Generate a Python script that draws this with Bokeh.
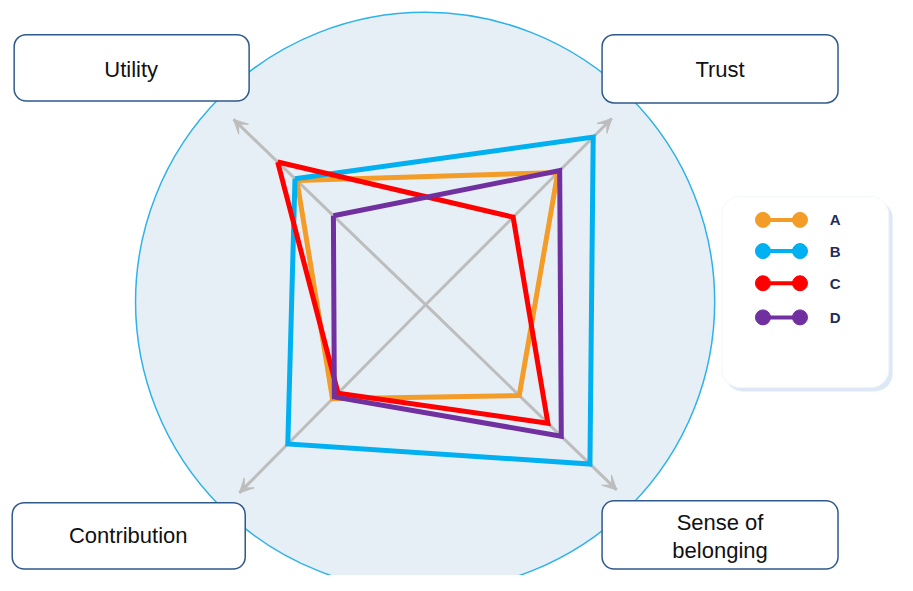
from bokeh.plotting import figure
from bokeh.models import Range1d, BoxAnnotation, Label, Arrow, VeeHead
from bokeh.core.properties import value
from bokeh.embed import file_html
from bokeh.resources import INLINE

# ---- data ----
categories = ["Utility", "Trust", "Sense of belonging", "Contribution"]
series_names = ["A", "B", "C", "D"]
a_vals = [67, 71, 49, 50]
b_vals = [68, 90, 86, 74]
c_vals = [77, 47, 64, 47]
d_vals = [48, 72, 71, 49]
max_val = 100

series_values = [a_vals, b_vals, c_vals, d_vals]
series_colors = ["#F39C28", "#00B0F0", "#FF0000", "#7030A0"]

# ---- layout (page pixel coordinates) ----
W, H = 897, 575
p = figure(width=W, height=H, output_backend="svg", toolbar_location=None,
           x_range=Range1d(0, W), y_range=Range1d(H, 0),
           x_axis_type=None, y_axis_type=None, min_border=0)
p.grid.visible = False
p.outline_line_color = None
p.background_fill_color = "white"
p.border_fill_color = "white"

s = 0.975  # fit 913x591 reference into the frame
def X(v):
    return v * s
def Y(v):
    return v * s

cx, cy = 436, 312
# axis tip offsets (radar spokes): Utility, Trust, Sense, Contribution
tips = [(-197, -190), (191, -191), (196, 190), (-191, 193)]

# background disc
p.circle(x=[X(435.5)], y=[Y(309)], radius=297 * s, fill_color="#E7EFF6",
         line_color="#2EB2EA", line_width=1.5)

# spokes
for dx, dy in tips:
    p.segment(x0=[X(cx)], y0=[Y(cy)], x1=[X(cx + dx)], y1=[Y(cy + dy)],
              line_color="#BDBDBD", line_width=3)
    p.add_layout(Arrow(x_start=X(cx + 0.9 * dx), y_start=Y(cy + 0.9 * dy),
                       x_end=X(cx + dx), y_end=Y(cy + dy), line_alpha=0,
                       end=VeeHead(size=14, fill_color="#BDBDBD",
                                   line_color="#BDBDBD", line_width=1)))

# series polygons
for vals, col in zip(series_values, series_colors):
    xs = [X(cx + v / max_val * dx) for v, (dx, dy) in zip(vals, tips)]
    ys = [Y(cy + v / max_val * dy) for v, (dx, dy) in zip(vals, tips)]
    xs.append(xs[0]); ys.append(ys[0])
    p.line(xs, ys, line_color=col, line_width=5, line_join="miter")

# category boxes
boxes = [(14, 255, 35, 103), (617, 859, 35, 105), (617, 859, 513, 583), (12, 251, 515, 583)]
for (l, r, t, b) in boxes:
    p.add_layout(BoxAnnotation(left=X(l), right=X(r), top=Y(t), bottom=Y(b),
                               fill_color="white", fill_alpha=1,
                               line_color="#2F5A8C", line_alpha=1, line_width=1.5,
                               border_radius=12))

def add_label(x, y, text):
    p.add_layout(Label(x=X(x), y=Y(y), text=text, text_align="center",
                       text_baseline="middle", text_font="Liberation Sans",
                       text_font_size="22px", text_color="#111111"))

add_label(134, 71, categories[0])
add_label(738, 71, categories[1])
sense_words = categories[2].split(" ")
add_label(738, 535, " ".join(sense_words[:2]))
add_label(738, 564, sense_words[2])
add_label(131, 549, categories[3])

# legend box (underlay, below legend glyphs)
p.add_layout(BoxAnnotation(left=X(743), right=X(915), top=Y(205), bottom=Y(401),
                           fill_color="#D3E2F2", fill_alpha=0.8,
                           line_color=None, border_radius=18, level="underlay"))
p.add_layout(BoxAnnotation(left=X(740), right=X(911), top=Y(201), bottom=Y(397),
                           fill_color="white", fill_alpha=1,
                           line_color="#F2F6FA", line_alpha=1, line_width=1,
                           border_radius=18, level="underlay"))

leg_y = [225, 257, 290, 325]
for name, col, y in zip(series_names, series_colors, leg_y):
    p.segment(x0=[X(782)], y0=[Y(y)], x1=[X(820)], y1=[Y(y)], line_color=col, line_width=4)
    p.scatter(x=[X(782), X(820)], y=[Y(y), Y(y)], size=15, fill_color=col, line_color=col)
    p.text(x=[X(856)], y=[Y(y)], text=[name], text_align="center", text_baseline="middle",
           text_font=value("Liberation Sans"), text_font_style="bold",
           text_font_size="15px", text_color="#1F2D5A")

open("out.html", "w").write(file_html(p, INLINE))
